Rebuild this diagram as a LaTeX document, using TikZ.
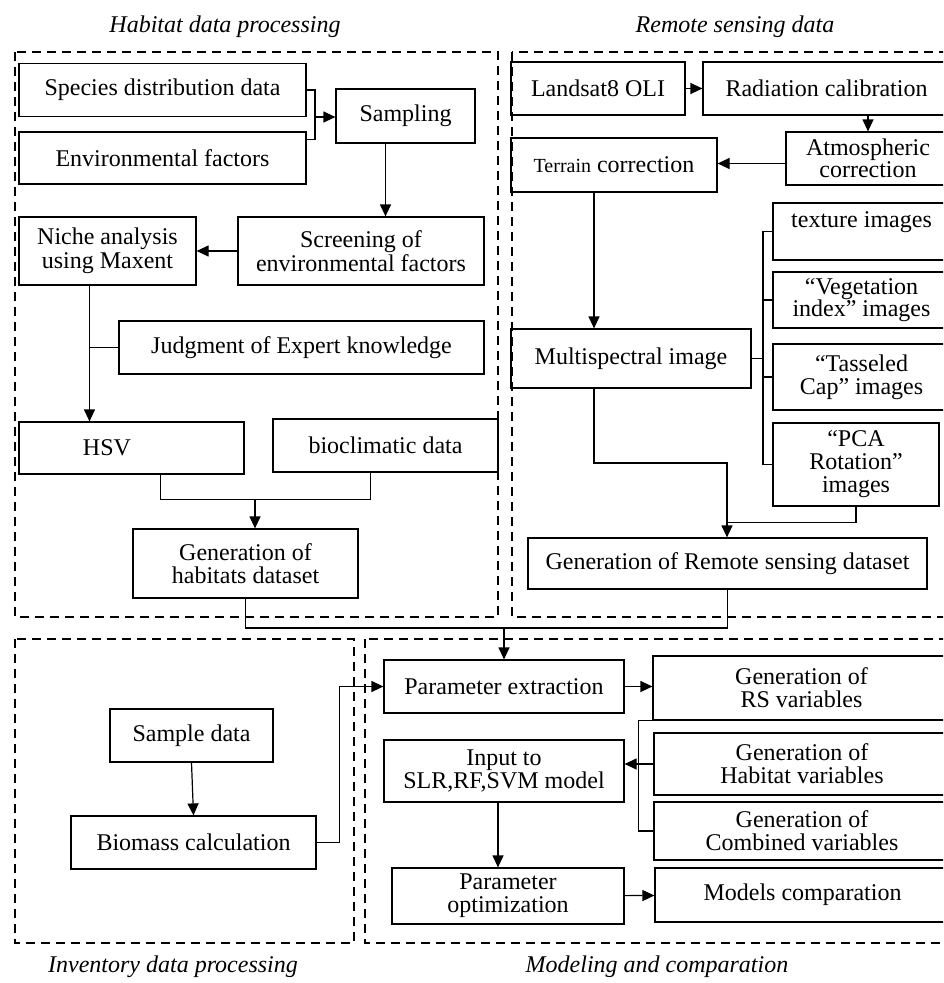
\documentclass[tikz,border=0pt]{standalone}
\usepackage{fontspec}
\setmainfont{Liberation Serif}
\usetikzlibrary{arrows.meta}

\begin{document}
\begin{tikzpicture}[x=1pt,y=-1pt,
    box/.style={draw, line width=1.2pt, inner sep=0pt, align=center, font=\fontsize{24}{23}\selectfont},
    arr/.style={-{Triangle[length=12pt,width=11pt]}, line width=1.2pt},
    dashbox/.style={line width=2.6pt, dash pattern=on 9pt off 6pt},
    ttl/.style={font=\fontsize{24}{24}\selectfont\itshape}]
    \clip (0,0) rectangle (943,983);
    % marcos punteados
    \draw[dashbox] (15,52) rectangle (498,617);
    \draw[dashbox] (512,52) rectangle (960,617);
    \draw[dashbox] (15,639) rectangle (354,943);
    \draw[dashbox] (365,639) rectangle (960,943);
    \node[ttl] (tithab) at (225,27) {Habitat data processing};
    \node[ttl] (titrs) at (735,27) {Remote sensing data};
    \node[ttl] (titinv) at (173,967) {Inventory data processing};
    \node[ttl] (titmod) at (657,967) {Modeling and comparation};
    % datos de habitat
    \node[box, minimum width=287pt, minimum height=53pt] (species) at (162.5,90) {Species distribution data};
    \node[box, minimum width=287pt, minimum height=52pt] (envfac) at (162.5,158) {Environmental factors};
    \node[box, minimum width=139pt, minimum height=54pt] (sampling) at (405.5,116) {Sampling};
    \node[box, minimum width=246pt, minimum height=68pt, font=\fontsize{24}{24}\selectfont] (screening) at (361,251) {Screening of\\environmental factors};
    \node[box, minimum width=177pt, minimum height=68pt, font=\fontsize{24}{24}\selectfont] (niche) at (107.5,251) {Niche analysis\\using Maxent};
    \node[box, minimum width=365pt, minimum height=53pt] (judgment) at (301.5,347.5) {Judgment of Expert knowledge};
    \node[box, minimum width=225pt, minimum height=52pt] (hsv) at (131.5,448) {HSV\hspace*{49pt}};
    \node[box, minimum width=225pt, minimum height=53pt] (bioclim) at (385.5,445.5) {bioclimatic data};
    \node[box, minimum width=225pt, minimum height=69pt] (genhab) at (245.5,563.5) {Generation of\\habitats dataset};
    % teledeteccion
    \node[box, minimum width=174pt, minimum height=53pt] (landsat) at (598,88.5) {Landsat8 OLI};
    \node[box, minimum width=247pt, minimum height=53pt] (radiation) at (826.5,88.5) {Radiation calibration};
    \node[box, minimum width=164pt, minimum height=53pt, font=\fontsize{24}{22}\selectfont] (atmos) at (868,158.5) {Atmospheric\\correction};
    \node[box, minimum width=206pt, minimum height=54pt] (terrain) at (614,165) {{\fontsize{20}{20}\selectfont Terrain} correction};
    \node[box, minimum width=240pt, minimum height=59pt] (multi) at (631,358.5) {Multispectral image};
    \node[box, minimum width=177pt, minimum height=57pt] (texture) at (861.5,231.5) {texture images\\\mbox{}};
    \node[box, minimum width=177pt, minimum height=56pt, font=\fontsize{24}{22}\selectfont] (vegind) at (861.5,300) {``Vegetation\\index'' images};
    \node[box, minimum width=177pt, minimum height=66pt] (tassel) at (861.5,377) {``Tasseled\\Cap'' images};
    \node[box, minimum width=166pt, minimum height=83pt] (pca) at (856,464.5) {``PCA\\Rotation''\\images};
    \node[box, minimum width=399pt, minimum height=51pt] (genrs) at (727.5,563.5) {Generation of Remote sensing dataset};
    % inventario
    \node[box, minimum width=163pt, minimum height=53pt] (sample) at (191.5,735.5) {Sample data};
    \node[box, minimum width=245pt, minimum height=53pt] (biomass) at (193.5,842.5) {Biomass calculation};
    % modelado
    \node[box, minimum width=240pt, minimum height=53pt] (paramext) at (504,686.5) {Parameter extraction};
    \node[box, minimum width=240pt, minimum height=62pt] (input) at (504,771) {Input to\\SLR,RF,SVM model};
    \node[box, minimum width=232pt, minimum height=56pt] (paramopt) at (508,896) {Parameter\\optimization};
    \node[box, minimum width=297pt, minimum height=64pt] (rsvar) at (801.5,688) {Generation of\\RS variables};
    \node[box, minimum width=296pt, minimum height=62pt] (habvar) at (802,764) {Generation of\\Habitat variables};
    \node[box, minimum width=296pt, minimum height=58pt] (combvar) at (802,831) {Generation of\\Combined variables};
    \node[box, minimum width=295pt, minimum height=54pt] (models) at (802.5,895) {Models comparation};
    % conectores
    \coordinate (m1) at (315,117);
    \draw[line width=1.2pt] (species.east) -| (m1);
    \draw[line width=1.2pt] ([yshift=-8pt]envfac.north east) -| (m1);
    \draw[arr] (m1) -- (m1 -| sampling.west);
    \draw[arr] ([xshift=-20pt]sampling.south) -- ([xshift=-20pt]sampling.south |- screening.north);
    \draw[arr] (screening) -- (niche);
    \coordinate (nb) at ([xshift=-18pt]niche.south);
    \draw[arr] (nb) -- (nb |- hsv.north);
    \draw[line width=1.2pt] (judgment.west) -- (judgment.west -| nb);
    \coordinate (j1) at (255,499);
    \draw[line width=1.2pt] ([xshift=29pt]hsv.south) -- ++(0,25) -| ([xshift=-15pt]bioclim.south);
    \draw[arr] (j1) -- (j1 |- genhab.north);
    \draw[arr] (landsat) -- (radiation);
    \draw[arr] (radiation.south -| atmos) -- (atmos.north);
    \draw[arr] ([yshift=-5pt]atmos.west) -- ([yshift=-5pt]atmos.west -| terrain.east);
    \draw[arr] ([xshift=-20pt]terrain.south) -- ([xshift=-20pt]terrain.south |- multi.north);
    \coordinate (br) at (763,358.5);
    \draw[line width=1.2pt] (multi.east) -- (br);
    \draw[line width=1.2pt] (texture.west) -| (br) |- (pca.west);
    \foreach \n in {vegind,tassel}
        \draw[line width=1.2pt] (\n.west) -- (\n.west -| br);
    \coordinate (k) at (727,463);
    \draw[arr] ([xshift=-37pt]multi.south) |- (k) -- (k |- genrs.north);
    \draw[line width=1.2pt] (pca.south) -- ++(0,16) -| (k);
    \coordinate (j2) at (504,628);
    \draw[line width=1.2pt] (genhab.south) |- (j2);
    \draw[line width=1.2pt] (genrs.south) |- (j2);
    \draw[arr] (j2) -- (paramext.north);
    \draw[arr] (sample.south) -- (biomass.north);
    \draw[arr] (biomass.east) -- ++(23,0) |- (paramext.west);
    \draw[arr] (paramext.east) -- (paramext.east -| rsvar.west);
    \draw[line width=1.2pt] (rsvar.south west) -- ++(-14,0) |- (combvar.west);
    \draw[arr] (habvar.west) -- (habvar.west -| input.east);
    \draw[arr] ([xshift=-6pt]input.south) -- ([xshift=-6pt]input.south |- paramopt.north);
    \draw[arr] (paramopt) -- (models);
\end{tikzpicture}
\end{document}
